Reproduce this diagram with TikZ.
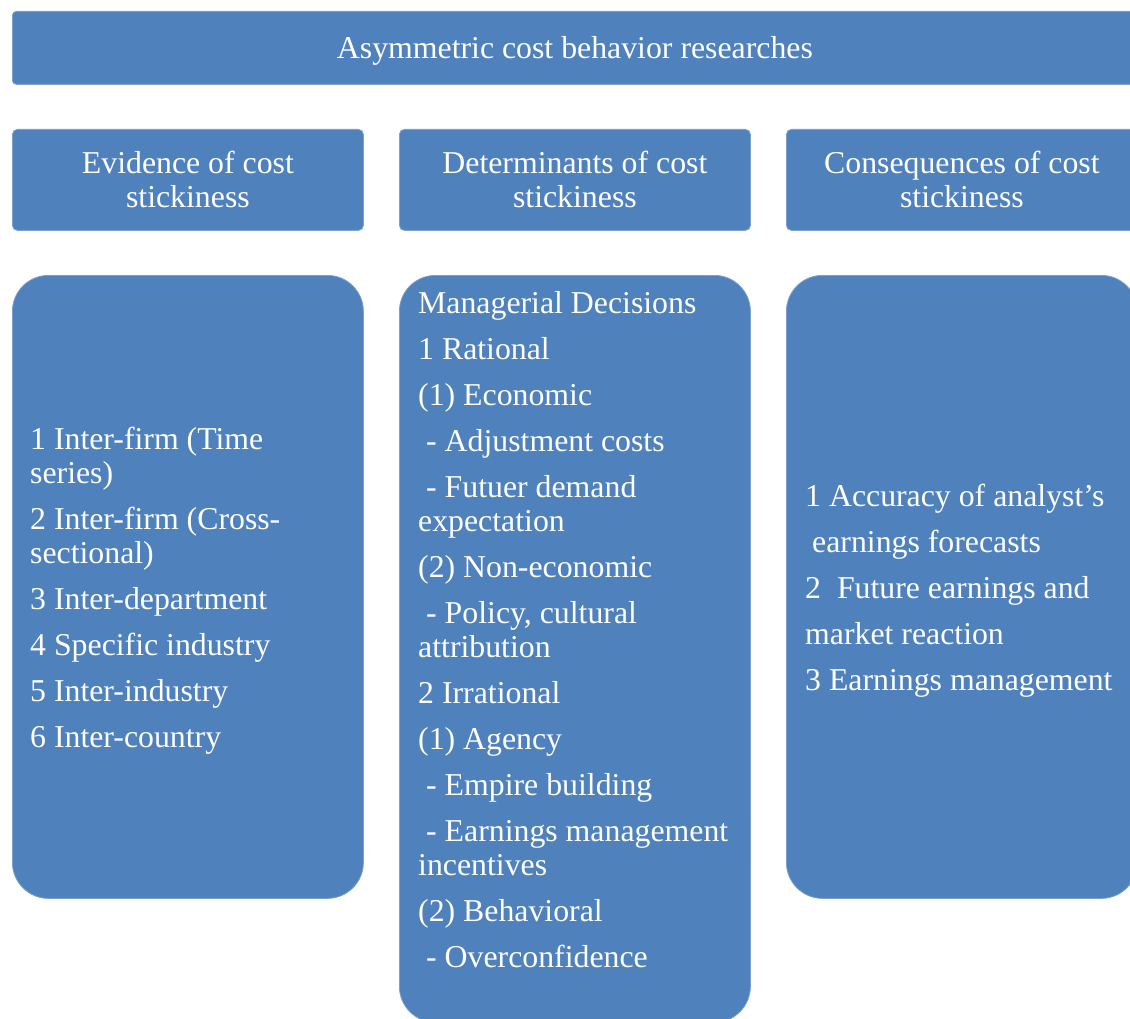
\documentclass[tikz,border=0pt]{standalone}
\usepackage{fontspec}
\setmainfont{Liberation Serif}
\definecolor{boxblue}{HTML}{4F81BD}
\tikzset{
  panel/.style={fill=boxblue, draw=boxblue!75!white, line width=0.8pt, anchor=north west, inner sep=0pt,
    text=white, font={\fontsize{31.8}{34}\selectfont}},
  headbox/.style={panel, rounded corners=5pt, minimum width=351pt, minimum height=101pt, align=center},
  listbox/.style={panel, rounded corners=36pt, minimum width=351pt},
  listtext/.style={text=white, align=left, inner sep=0pt, font={\fontsize{31.8}{34}\selectfont}}
}
\newcommand{\ind}{\hspace*{8pt}}

\begin{document}
\begin{tikzpicture}[x=1pt, y=-1pt]
  \clip (0,0) rectangle (1130,1019);
  \fill[white] (0,0) rectangle (1130,1019);

  % top banner
  \node[panel, rounded corners=4pt, minimum width=1125pt, minimum height=73pt] (title) at (12,11) {};
  \node[listtext] (titletext) at ([yshift=-3pt]title.center) {Asymmetric cost behavior researches};

  % column headings
  \node[headbox] (evidence) at (12,129) {Evidence of cost\\stickiness};
  \node[headbox] (determinants) at (399,129) {Determinants of cost\\stickiness};
  \node[headbox] (consequences) at (786,129) {Consequences of cost\\stickiness};

  % column bodies
  \node[listbox, minimum height=623pt] (evidencelist) at (12,275) {};
  \node[listbox, minimum height=747pt] (determinantslist) at (399,275) {};
  \node[listbox, minimum height=623pt] (consequenceslist) at (786,275) {};

  \node[listtext, anchor=west] (evidenceitems) at ([xshift=18pt,yshift=-4pt]evidencelist.west)
    {1 Inter-firm (Time\\series)\\[12pt]
     2 Inter-firm (Cross-\\sectional)\\[12pt]
     3 Inter-department\\[12pt]
     4 Specific industry\\[12pt]
     5 Inter-industry\\[12pt]
     6 Inter-country};

  \node[listtext, anchor=north west] (determinantsitems) at ([xshift=19pt,yshift=-16pt]determinantslist.north west)
    {Managerial Decisions\\[12pt]
     1 Rational\\[12pt]
     (1) Economic\\[12pt]
     \ind- Adjustment costs\\[12pt]
     \ind- Futuer demand\\expectation\\[12pt]
     (2) Non-economic\\[12pt]
     \ind- Policy, cultural\\attribution\\[12pt]
     2 Irrational\\[12pt]
     (1) Agency\\[12pt]
     \ind- Empire building\\[12pt]
     \ind- Earnings management\\incentives\\[12pt]
     (2) Behavioral\\[12pt]
     \ind- Overconfidence};

  \node[listtext, anchor=west] (consequencesitems) at ([xshift=19pt,yshift=-4pt]consequenceslist.west)
    {1 Accuracy of analyst’s\\[12pt]
     \hspace*{7pt}earnings forecasts\\[12pt]
     2\ \ Future earnings and\\[12pt]
     market reaction\\[12pt]
     3 Earnings management};
\end{tikzpicture}
\end{document}
